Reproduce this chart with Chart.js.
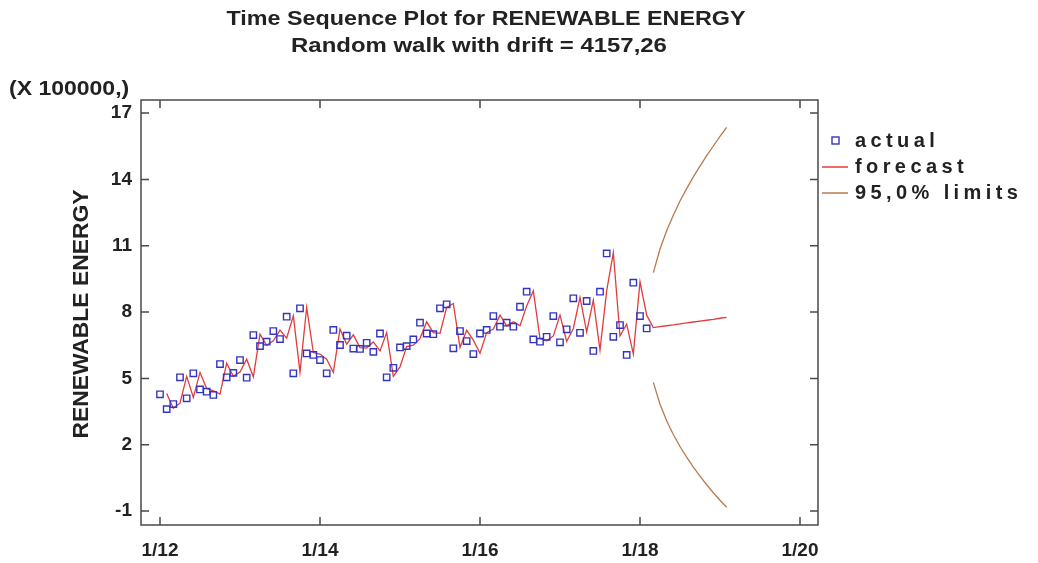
<!DOCTYPE html>
<html>
<head>
<meta charset="utf-8">
<script src="https://cdn.jsdelivr.net/npm/chart.js@4"></script>
<style>
  html, body { margin: 0; padding: 0; background: #fff; }
  #wrap { width: 1038px; height: 563px; }
</style>
</head>
<body>
<div id="wrap"><canvas id="tsChart" width="1038" height="563"></canvas></div>
<script>
// months counted from 1/12 (0 = Jan 2012)
const tickMonths = [0, 24, 48, 72, 96];
const tickLabels = ['1/12', '1/14', '1/16', '1/18', '1/20'];
const yTicks = [-1, 2, 5, 8, 11, 14, 17];

// actual values (x 100000), Jan 2012 .. Feb 2018
const actualValues = [
    4.28, 3.61, 3.84, 5.05, 4.10, 5.23, 4.50, 4.40, 4.25, 5.65,
    5.05, 5.25, 5.83, 5.03, 6.96, 6.46, 6.66, 7.14, 6.78, 7.79,
    5.23, 8.17, 6.13, 6.06, 5.83, 5.23, 7.19, 6.51, 6.93, 6.35,
    6.33, 6.61, 6.20, 7.03, 5.05, 5.48, 6.40, 6.46, 6.76, 7.52,
    7.03, 7.00, 8.17, 8.35, 6.36, 7.14, 6.69, 6.10, 7.03, 7.19,
    7.82, 7.34, 7.52, 7.34, 8.24, 8.92, 6.76, 6.66, 6.88, 7.82,
    6.63, 7.22, 8.62, 7.06, 8.50, 6.24, 8.92, 10.65, 6.88, 7.41,
    6.06, 9.33, 7.82, 7.26
];

// forecast line, Feb 2012 .. Feb 2019
const forecastStart = 1;
const forecastValues = [
    4.32, 3.65, 3.88, 5.09, 4.14, 5.27, 4.54, 4.44, 4.29, 5.69,
    5.09, 5.29, 5.87, 5.07, 7.00, 6.50, 6.70, 7.18, 6.82, 7.83,
    5.27, 8.21, 6.17, 6.10, 5.87, 5.27, 7.23, 6.55, 6.97, 6.39,
    6.37, 6.65, 6.24, 7.07, 5.09, 5.52, 6.44, 6.50, 6.80, 7.56,
    7.07, 7.04, 8.21, 8.39, 6.40, 7.18, 6.73, 6.14, 7.07, 7.23,
    7.86, 7.38, 7.56, 7.38, 8.28, 8.96, 6.80, 6.70, 6.92, 7.86,
    6.67, 7.26, 8.66, 7.10, 8.54, 6.28, 8.96, 10.69, 6.92, 7.45,
    6.10, 9.37, 7.86,
    7.30, 7.34, 7.38, 7.42, 7.47, 7.51, 7.55, 7.59, 7.63, 7.67, 7.72, 7.76
];

// 95% limits, Mar 2018 .. Feb 2019
const limitsStart = 74;
const upperLimits = [9.78, 10.85, 11.68, 12.38, 13.02, 13.58, 14.11, 14.60, 15.07, 15.51, 15.95, 16.35];
const lowerLimits = [4.82, 3.83, 3.08, 2.46, 1.92, 1.44, 0.99, 0.58, 0.19, -0.17, -0.51, -0.83];

const actualColor = '#3434c4';
const forecastColor = '#e23c3c';
const limitsColor = '#b87a4c';
const textColor = '#222';
const fontFamily = '"Liberation Sans", Arial, sans-serif';

function toPoints(values, start) {
    return values.map((v, i) => ({ x: start + i, y: v }));
}

// draws text a bit wider than the font, like the original export
function wideText(ctx, text, x, y, stretch) {
    ctx.save();
    ctx.translate(x, y);
    ctx.scale(stretch, 1);
    ctx.fillText(text, 0, 0);
    ctx.restore();
}

// frame, inward ticks, titles and legend
const decorPlugin = {
    id: 'decor',
    afterDraw(chart) {
        const ctx = chart.ctx;
        const a = chart.chartArea;
        const xs = chart.scales.x, ys = chart.scales.y;
        ctx.save();

        ctx.strokeStyle = '#4a4a4a';
        ctx.lineWidth = 1.5;
        ctx.strokeRect(a.left, a.top, a.right - a.left, a.bottom - a.top);
        ctx.beginPath();
        tickMonths.forEach(m => {
            const px = xs.getPixelForValue(m);
            ctx.moveTo(px, a.bottom); ctx.lineTo(px, a.bottom - 8);
            ctx.moveTo(px, a.top); ctx.lineTo(px, a.top + 8);
        });
        yTicks.forEach(v => {
            const py = ys.getPixelForValue(v);
            ctx.moveTo(a.left, py); ctx.lineTo(a.left + 8, py);
            ctx.moveTo(a.right, py); ctx.lineTo(a.right - 8, py);
        });
        ctx.stroke();

        ctx.fillStyle = textColor;
        ctx.textAlign = 'center';
        ctx.textBaseline = 'middle';
        ctx.font = 'bold 21px ' + fontFamily;
        wideText(ctx, 'Time Sequence Plot for RENEWABLE ENERGY', 486, 19, 1.11);
        wideText(ctx, 'Random walk with drift = 4157,26', 479, 46, 1.14);

        ctx.textAlign = 'left';
        ctx.font = 'bold 20px ' + fontFamily;
        wideText(ctx, '(X 100000,)', 9, 89, 1.15);

        ctx.save();
        ctx.translate(82, 314);
        ctx.rotate(-Math.PI / 2);
        ctx.textAlign = 'center';
        ctx.font = 'bold 22px ' + fontFamily;
        wideText(ctx, 'RENEWABLE ENERGY', 0, 0, 1.04);
        ctx.restore();

        // legend
        ctx.font = 'bold 20px ' + fontFamily;
        ctx.letterSpacing = '4.4px';
        ctx.textAlign = 'left';
        ctx.fillText('actual', 855, 141);
        ctx.fillText('forecast', 855, 167);
        ctx.fillText('95,0% limits', 855, 193);
        ctx.letterSpacing = '0px';
        ctx.strokeStyle = actualColor;
        ctx.lineWidth = 1.4;
        ctx.strokeRect(832, 137, 7, 7);
        ctx.lineWidth = 1.5;
        ctx.strokeStyle = forecastColor;
        ctx.beginPath(); ctx.moveTo(822, 167); ctx.lineTo(848, 167); ctx.stroke();
        ctx.strokeStyle = limitsColor;
        ctx.beginPath(); ctx.moveTo(822, 193); ctx.lineTo(848, 193); ctx.stroke();

        ctx.restore();
    }
};

const ctx = document.getElementById('tsChart').getContext('2d');
new Chart(ctx, {
    type: 'scatter',
    data: {
        datasets: [
            {
                label: 'actual',
                data: toPoints(actualValues, 0),
                showLine: false,
                pointStyle: 'rect',
                pointRadius: 4.5,
                borderColor: actualColor,
                backgroundColor: 'rgba(0,0,0,0)',
                borderWidth: 1.4,
                order: 0
            },
            {
                label: 'forecast',
                data: toPoints(forecastValues, forecastStart),
                showLine: true,
                pointRadius: 0,
                borderColor: forecastColor,
                borderWidth: 1.3,
                order: 1
            },
            {
                label: 'upper',
                data: toPoints(upperLimits, limitsStart),
                showLine: true,
                pointRadius: 0,
                borderColor: limitsColor,
                borderWidth: 1.3,
                order: 2
            },
            {
                label: 'lower',
                data: toPoints(lowerLimits, limitsStart),
                showLine: true,
                pointRadius: 0,
                borderColor: limitsColor,
                borderWidth: 1.3,
                order: 2
            }
        ]
    },
    options: {
        responsive: false,
        animation: false,
        layout: { padding: { left: 0, top: 100, right: 220, bottom: 0 } },
        plugins: {
            legend: { display: false },
            tooltip: { enabled: false }
        },
        scales: {
            x: {
                type: 'linear',
                min: -2.85,
                max: 98.7,
                grid: { display: false, drawTicks: false },
                border: { display: false },
                afterBuildTicks: scale => {
                    scale.ticks = tickMonths.map(v => ({ value: v }));
                },
                afterFit: scale => { scale.height = 38; },
                ticks: {
                    padding: 14,
                    color: textColor,
                    font: { family: fontFamily, size: 19, weight: 'bold' },
                    callback: value => tickLabels[tickMonths.indexOf(value)]
                }
            },
            y: {
                min: -1.63,
                max: 17.59,
                grid: { display: false, drawTicks: false },
                border: { display: false },
                afterBuildTicks: scale => {
                    scale.ticks = yTicks.map(v => ({ value: v }));
                },
                afterFit: scale => { scale.width = 141; },
                ticks: {
                    padding: 9,
                    color: textColor,
                    font: { family: fontFamily, size: 19, weight: 'bold' }
                }
            }
        }
    },
    plugins: [decorPlugin]
});
</script>
</body>
</html>
